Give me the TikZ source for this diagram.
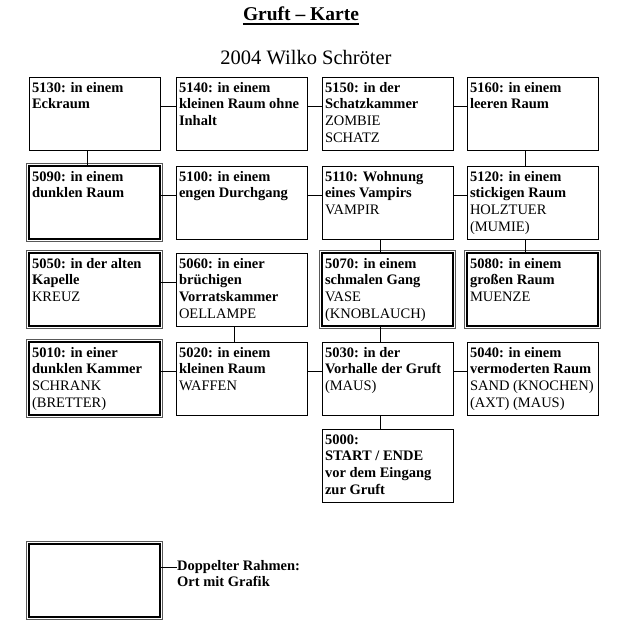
\documentclass[tikz,border=0pt]{standalone}
\usepackage{fontspec}
\setmainfont{Liberation Serif}
\usetikzlibrary{calc}
\newcommand{\roomtext}[1]{\parbox[t][66pt][t]{125pt}{\begin{tabular}[t]{@{}l@{}}#1\end{tabular}}}
\tikzset{
	room/.style={draw, line width=1pt, anchor=north west, inner xsep=3pt, inner ysep=3.5pt, outer sep=0pt, font=\fontsize{14.5}{16.7}\selectfont},
	framed/.style={room, line width=2.2pt},
	outerframe/.style={draw=black!65, line width=0.8pt},
	link/.style={line width=1pt},
}

\begin{document}
\begin{tikzpicture}[x=1pt, y=-1pt]
		%%%%% START %%%%%
		\useasboundingbox (0, 0) rectangle (623, 626);
		
		\node[inner sep=0, anchor=base, font=\bfseries\fontsize{19.5}{23}\selectfont] (title) at (301, 21) {Gruft – Karte};
		\draw[line width=1.6pt] ([yshift=-3pt]title.base west) -- ([yshift=-3pt]title.base east);
		\node[inner sep=0, anchor=base, font=\fontsize{20.5}{24}\selectfont] (author) at (306, 64) {2004 Wilko Schröter};
		
		% first row
		\node[room] (r5130) at (29, 77) {\roomtext{\textbf{5130: in einem}\\\textbf{Eckraum}}};
		\node[room] (r5140) at (176, 77) {\roomtext{\textbf{5140: in einem}\\\textbf{kleinen Raum ohne}\\\textbf{Inhalt}}};
		\node[room] (r5150) at (322, 77) {\roomtext{\textbf{5150: in der}\\\textbf{Schatzkammer}\\ZOMBIE\\SCHATZ}};
		\node[room] (r5160) at (467, 77) {\roomtext{\textbf{5160: in einem}\\\textbf{leeren Raum}}};
		
		% second row
		\node[framed] (r5090) at (29, 166) {\roomtext{\textbf{5090: in einem}\\\textbf{dunklen Raum}}};
		\node[room] (r5100) at (176, 166) {\roomtext{\textbf{5100: in einem}\\\textbf{engen Durchgang}}};
		\node[room] (r5110) at (322, 166) {\roomtext{\textbf{5110: Wohnung}\\\textbf{eines Vampirs}\\VAMPIR}};
		\node[room] (r5120) at (467, 166) {\roomtext{\textbf{5120: in einem}\\\textbf{stickigen Raum}\\HOLZTUER\\(MUMIE)}};
		
		% third row
		\node[framed] (r5050) at (29, 253) {\roomtext{\textbf{5050: in der alten}\\\textbf{Kapelle}\\KREUZ}};
		\node[room] (r5060) at (176, 253) {\roomtext{\textbf{5060: in einer}\\\textbf{brüchigen}\\\textbf{Vorratskammer}\\OELLAMPE}};
		\node[framed] (r5070) at (322, 253) {\roomtext{\textbf{5070: in einem}\\\textbf{schmalen Gang}\\VASE\\(KNOBLAUCH)}};
		\node[framed] (r5080) at (467, 253) {\roomtext{\textbf{5080: in einem}\\\textbf{großen Raum}\\MUENZE}};
		
		% fourth row
		\node[framed] (r5010) at (29, 342) {\roomtext{\textbf{5010: in einer}\\\textbf{dunklen Kammer}\\SCHRANK\\(BRETTER)}};
		\node[room] (r5020) at (176, 342) {\roomtext{\textbf{5020: in einem}\\\textbf{kleinen Raum}\\WAFFEN}};
		\node[room] (r5030) at (322, 342) {\roomtext{\textbf{5030: in der}\\\textbf{Vorhalle der Gruft}\\(MAUS)}};
		\node[room] (r5040) at (467, 342) {\roomtext{\textbf{5040: in einem}\\\textbf{vermoderten Raum}\\SAND (KNOCHEN)\\(AXT) (MAUS)}};
		
		\node[room] (r5000) at (322, 429) {\roomtext{\textbf{5000:}\\\textbf{START / ENDE}\\\textbf{vor dem Eingang}\\\textbf{zur Gruft}}};
		
		% legend
		\node[framed] (lgbox) at (29, 544) {\roomtext{}};
		\node[inner sep=0, anchor=north west, align=left, font=\bfseries\fontsize{14.5}{16.7}\selectfont] (lgtext) at (177, 560) {Doppelter Rahmen:\\Ort mit Grafik};
		
		\foreach \n in {r5090, r5050, r5010, r5070, r5080, lgbox}
			\draw[outerframe] ([shift={(-2.8pt,2.8pt)}]\n.north west) rectangle ([shift={(2.8pt,-2.8pt)}]\n.south east);
		
		\foreach \a/\b in {r5130/r5140, r5140/r5150, r5150/r5160, r5090/r5100, r5100/r5110, r5110/r5120, r5050/r5060, r5010/r5020, r5020/r5030, r5030/r5040}
			\draw[link] ([yshift=7.5pt]\a.east) -- ([yshift=7.5pt]\b.west);
		
		\foreach \a/\b in {r5130/r5090, r5160/r5120, r5120/r5080, r5110/r5070, r5070/r5030, r5060/r5020, r5030/r5000}
			\draw[link] ([xshift=-7pt]\a.south) -- ([xshift=-7pt]\b.north);
		
		\draw[link] ([yshift=13.5pt]lgbox.east) -- ([yshift=13.5pt]lgbox.east -| lgtext.west);
		
		%%%%% END %%%%%
	\end{tikzpicture}
\end{document}
